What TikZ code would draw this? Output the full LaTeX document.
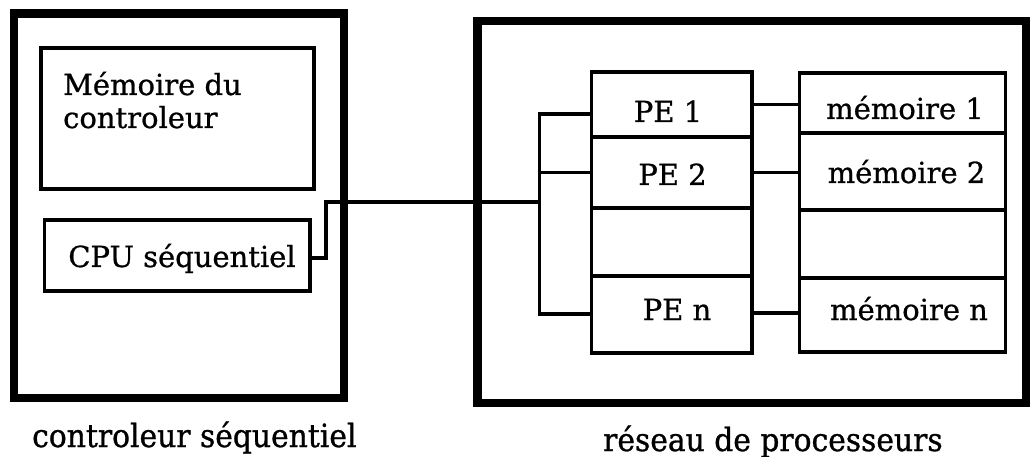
\documentclass[tikz,border=0pt]{standalone}
\usepackage{fontspec}
\setmainfont{DejaVu Serif}
\newfontfamily\boxfont[FakeBold=0.8]{DejaVu Serif}
\newfontfamily\capfont[FakeStretch=0.93,FakeBold=0.9]{DejaVu Serif}
\begin{document}
\begin{tikzpicture}[x=1pt,y=-1pt,
  frame/.style={draw, line width=8.8pt, inner sep=0pt, rectangle},
  cell/.style={draw, line width=3.1pt, inner sep=0pt, rectangle},
  wire/.style={draw, line width=3.1pt, line cap=rect},
  lbl/.style={inner sep=0pt, font=\boxfont\fontsize{29}{33}\selectfont},
  caption/.style={inner sep=0pt, font=\capfont\fontsize{32}{36}\selectfont}]
\useasboundingbox[fill=white] (0,0) rectangle (1034,457);

% sequential controller
\node[frame, minimum width=330pt, minimum height=384.5pt] (ctrl) at (179,205.75) {};
\node[cell, minimum width=273pt, minimum height=141pt] (cmem) at (177.5,118.5) {};
\node[cell, minimum width=265.5pt, minimum height=71pt] (cpu) at (177.25,255.5) {};
\node[lbl, anchor=base west] (cmemA) at (63,95) {Mémoire du};
\node[lbl, anchor=base west] (cmemB) at (63,128) {controleur};
\node[lbl, anchor=base] (cputxt) at (182,267) {CPU séquentiel};

% processor array
\node[frame, minimum width=548.5pt, minimum height=382pt] (array) at (751.75,212) {};

% processing elements
\node[cell, minimum width=160.5pt, minimum height=65pt] (pe1) at (671.75,104.5) {};
\node[cell, minimum width=160.5pt, minimum height=71pt] (pe2) at (671.75,172.5) {};
\node[cell, minimum width=160.5pt, minimum height=68pt] (pe3) at (671.75,242) {};
\node[cell, minimum width=160.5pt, minimum height=77pt] (pen) at (671.75,314.5) {};
\node[lbl, anchor=base] (pe1txt) at (668,122) {PE 1};
\node[lbl, anchor=base] (pe2txt) at (672.5,185) {PE 2};
\node[lbl, anchor=base] (pentxt) at (677,320) {PE n};

% local memories
\node[cell, minimum width=206pt, minimum height=60pt] (mem1) at (902.5,103) {};
\node[cell, minimum width=206pt, minimum height=77pt] (mem2) at (902.5,171.5) {};
\node[cell, minimum width=206pt, minimum height=68pt] (mem3) at (902.5,244) {};
\node[cell, minimum width=206pt, minimum height=74pt] (memn) at (902.5,315) {};
\node[lbl, anchor=base] (mem1txt) at (905,119) {mémoire 1};
\node[lbl, anchor=base] (mem2txt) at (906.5,183) {mémoire 2};
\node[lbl, anchor=base] (memntxt) at (909,320) {mémoire n};

% PE to memory links
\coordinate (ln) at ([yshift=1.5pt]pen.east);
\draw[wire] (pe1.east) -- (mem1.west |- pe1.east);
\draw[wire] (pe2.east) -- (mem2.west |- pe2.east);
\draw[wire] (ln) -- (memn.west |- ln);

% broadcast bus
\coordinate (b1) at (539.5,114);
\coordinate (bn) at (539.5,314);
\coordinate (bend) at (326,202);
\coordinate (cpuout) at ([yshift=-2.5pt]cpu.east);
\draw[wire] (b1) -- (bn);
\draw[wire] (b1) -- (b1 -| pe1.west);
\draw[wire] (b1 |- pe2.west) -- (pe2.west);
\draw[wire] (bn) -- (bn -| pen.west);
\draw[wire] (cpuout) -| (bend) -- (bend -| b1);

% captions
\node[caption, anchor=base west] (capL) at (32,447) {controleur séquentiel};
\node[caption, anchor=base west] (capR) at (603,451) {réseau de processeurs};
\end{tikzpicture}
\end{document}
